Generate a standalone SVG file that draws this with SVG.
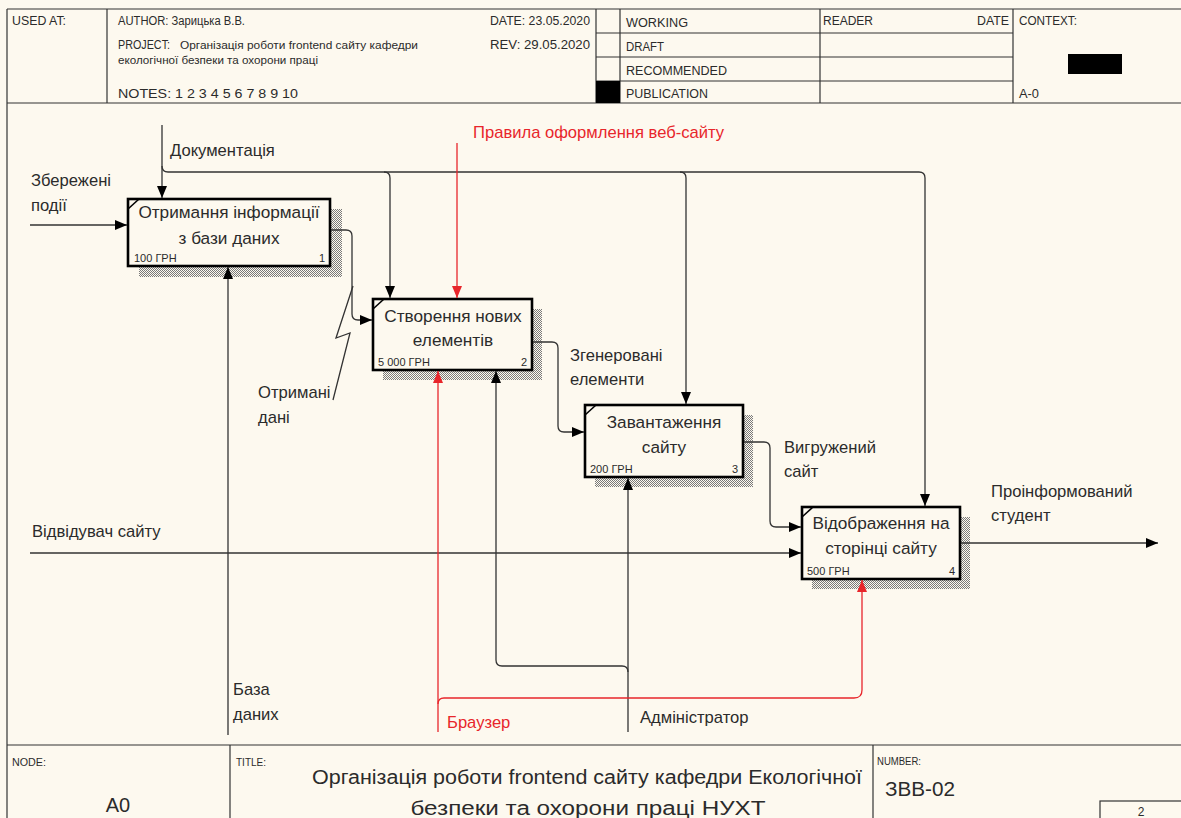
<svg xmlns="http://www.w3.org/2000/svg" width="1181" height="818" viewBox="0 0 1181 818">
  <style>
    text { font-family: "Liberation Sans", Arial, sans-serif; fill: #2b2b2b; }
    .hdr { font-size: 12px; }
    .sm { font-size: 10px; }
    .lbl { font-size: 16.6px; }
    .act { font-size: 17.2px; }
    .red { fill: #e8262b; }
    .ttl { font-size: 20px; }
    .frame { stroke: #333; stroke-width: 1.2; fill: none; }
    .box { fill: #fdf9ef; stroke: #000; stroke-width: 2.6; }
    .shadow { fill: url(#hatch); }
    .corner { stroke: #000; stroke-width: 1.6; }
    .cost { font-size: 11px; }
    .wire { fill: none; stroke: #333; stroke-width: 1.3; }
    .wire-red { fill: none; stroke: #e8262b; stroke-width: 1.3; }
  </style>
  <defs>
    <pattern id="hatch" width="2" height="2" patternUnits="userSpaceOnUse">
      <rect x="0" y="0" width="1" height="1" fill="#7a7a7a"/>
      <rect x="1" y="1" width="1" height="1" fill="#7a7a7a"/>
    </pattern>
    <marker id="arr" viewBox="0 0 12 10" refX="12" refY="5" markerWidth="12" markerHeight="10" markerUnits="userSpaceOnUse" orient="auto">
      <path d="M0,0 L12,5 L0,10 Z" fill="#000"/>
    </marker>
    <marker id="arr-red" viewBox="0 0 12 10" refX="12" refY="5" markerWidth="12" markerHeight="10" markerUnits="userSpaceOnUse" orient="auto">
      <path d="M0,0 L12,5 L0,10 Z" fill="#e8262b"/>
    </marker>
  </defs>

  <rect x="0" y="0" width="1181" height="818" fill="#fdf9ef"/>

  <!-- header form -->
  <g id="header">
    <line class="frame" x1="7" y1="9" x2="1181" y2="9"/>
    <line class="frame" x1="7" y1="103" x2="1181" y2="103"/>
    <line class="frame" x1="7" y1="9" x2="7" y2="818"/>
    <line class="frame" x1="107" y1="9" x2="107" y2="103"/>
    <line class="frame" x1="596" y1="9" x2="596" y2="103"/>
    <line class="frame" x1="620" y1="9" x2="620" y2="103"/>
    <line class="frame" x1="820" y1="9" x2="820" y2="103"/>
    <line class="frame" x1="1013" y1="9" x2="1013" y2="103"/>
    <line class="frame" x1="596" y1="33" x2="1013" y2="33"/>
    <line class="frame" x1="596" y1="57" x2="1013" y2="57"/>
    <line class="frame" x1="596" y1="81" x2="1013" y2="81"/>
    <rect x="596" y="81" width="24" height="22" fill="#000"/>
    <rect x="1068" y="54" width="54" height="20" fill="#000"/>

    <text class="hdr" x="12" y="25" textLength="54" lengthAdjust="spacingAndGlyphs">USED AT:</text>
    <text class="hdr" x="118" y="25" textLength="127" lengthAdjust="spacingAndGlyphs">AUTHOR:  Зарицька В.В.</text>
    <text class="hdr" x="118" y="49" textLength="52" lengthAdjust="spacingAndGlyphs">PROJECT:</text>
    <text class="sm" x="180" y="49" textLength="238" lengthAdjust="spacingAndGlyphs">Організація роботи frontend сайту кафедри</text>
    <text class="sm" x="118" y="64" textLength="200" lengthAdjust="spacingAndGlyphs">екологічної безпеки та охорони праці</text>
    <text class="hdr" x="118" y="98" textLength="180" lengthAdjust="spacingAndGlyphs">NOTES:  1  2  3  4  5  6  7  8  9  10</text>
    <text class="hdr" x="490" y="25" textLength="100" lengthAdjust="spacingAndGlyphs">DATE:  23.05.2020</text>
    <text class="hdr" x="490" y="49" textLength="100" lengthAdjust="spacingAndGlyphs">REV:   29.05.2020</text>
    <text class="hdr" x="626" y="27" textLength="62" lengthAdjust="spacingAndGlyphs">WORKING</text>
    <text class="hdr" x="626" y="51" textLength="38" lengthAdjust="spacingAndGlyphs">DRAFT</text>
    <text class="hdr" x="626" y="75" textLength="101" lengthAdjust="spacingAndGlyphs">RECOMMENDED</text>
    <text class="hdr" x="626" y="98" textLength="82" lengthAdjust="spacingAndGlyphs">PUBLICATION</text>
    <text class="hdr" x="823" y="25" textLength="50" lengthAdjust="spacingAndGlyphs">READER</text>
    <text class="hdr" x="977" y="25" textLength="32" lengthAdjust="spacingAndGlyphs">DATE</text>
    <text class="hdr" x="1019" y="25" textLength="58" lengthAdjust="spacingAndGlyphs">CONTEXT:</text>
    <text class="hdr" x="1019" y="98" textLength="20" lengthAdjust="spacingAndGlyphs">A-0</text>
  </g>

  <!-- footer form -->
  <g id="footer">
    <line class="frame" x1="7" y1="745" x2="1181" y2="745"/>
    <line class="frame" x1="230" y1="745" x2="230" y2="818"/>
    <line class="frame" x1="873" y1="745" x2="873" y2="818"/>
    <rect class="frame" x="1100" y="801" width="90" height="20"/>
    <text class="sm" x="12" y="766" textLength="34" lengthAdjust="spacingAndGlyphs">NODE:</text>
    <text class="sm" x="236" y="766" textLength="30" lengthAdjust="spacingAndGlyphs">TITLE:</text>
    <text class="sm" x="877" y="765" textLength="44" lengthAdjust="spacingAndGlyphs">NUMBER:</text>
    <text class="ttl" x="118" y="812" text-anchor="middle">A0</text>
    <text class="ttl" x="587" y="784" text-anchor="middle" textLength="550" lengthAdjust="spacingAndGlyphs">Організація роботи frontend  сайту кафедри Екологічної</text>
    <text class="ttl" x="588" y="815" text-anchor="middle" textLength="355" lengthAdjust="spacingAndGlyphs">безпеки  та охорони праці НУХТ</text>
    <text class="ttl" x="885" y="796" textLength="70" lengthAdjust="spacingAndGlyphs">ЗВВ-02</text>
    <text class="hdr" x="1141" y="816" text-anchor="middle">2</text>
  </g>

  <!-- activity 1 -->
  <g id="node1">
    <rect class="shadow" x="139" y="209" width="203" height="68"/>
    <rect class="box" x="128" y="199" width="202" height="67"/>
    <line class="corner" x1="128" y1="209" x2="139" y2="199"/>
    <text class="act" x="229" y="218" text-anchor="middle">Отримання інформації</text>
    <text class="act" x="229" y="244" text-anchor="middle">з бази даних</text>
    <text class="cost" x="134" y="262">100 ГРН</text>
    <text class="cost" x="325" y="262" text-anchor="end">1</text>
  </g>

  <!-- activity 2 -->
  <g id="node2">
    <rect class="shadow" x="383" y="309" width="159" height="71"/>
    <rect class="box" x="373" y="299" width="159" height="71"/>
    <line class="corner" x1="373" y1="309" x2="384" y2="299"/>
    <text class="act" x="453" y="322" text-anchor="middle">Створення нових</text>
    <text class="act" x="453" y="346" text-anchor="middle">елементів</text>
    <text class="cost" x="378" y="366">5 000 ГРН</text>
    <text class="cost" x="527" y="366" text-anchor="end">2</text>
  </g>

  <!-- activity 3 -->
  <g id="node3">
    <rect class="shadow" x="595" y="415" width="158" height="72"/>
    <rect class="box" x="585" y="405" width="158" height="72"/>
    <line class="corner" x1="585" y1="415" x2="596" y2="405"/>
    <text class="act" x="664" y="428" text-anchor="middle">Завантаження</text>
    <text class="act" x="664" y="453" text-anchor="middle">сайту</text>
    <text class="cost" x="590" y="473">200 ГРН</text>
    <text class="cost" x="738" y="473" text-anchor="end">3</text>
  </g>

  <!-- activity 4 -->
  <g id="node4">
    <rect class="shadow" x="812" y="517" width="158" height="72"/>
    <rect class="box" x="802" y="507" width="158" height="72"/>
    <line class="corner" x1="802" y1="517" x2="813" y2="507"/>
    <text class="act" x="881" y="529" text-anchor="middle">Відображення на</text>
    <text class="act" x="881" y="554" text-anchor="middle">сторінці сайту</text>
    <text class="cost" x="807" y="575">500 ГРН</text>
    <text class="cost" x="955" y="575" text-anchor="end">4</text>
  </g>

  <!-- connectors, drawn above the box shadows -->
  <g id="connectors">
    <!-- Документація and its branches -->
    <path class="wire" d="M162,125 L162,198" marker-end="url(#arr)"/>
    <path class="wire" d="M162,166 Q162,172 168,172 L919,172 Q925,172 925,178 L925,506" marker-end="url(#arr)"/>
    <path class="wire" d="M384,172 Q390,172 390,178 L390,298" marker-end="url(#arr)"/>
    <path class="wire" d="M680,172 Q686,172 686,178 L686,404" marker-end="url(#arr)"/>

    <!-- Правила оформлення веб-сайту -->
    <path class="wire-red" d="M457,143 L457,298" marker-end="url(#arr-red)"/>

    <!-- Збережені події -->
    <path class="wire" d="M30,225 L127,225" marker-end="url(#arr)"/>

    <!-- Отримані дані -->
    <path class="wire" d="M331,230 L346,230 Q352,230 352,236 L352,314 Q352,320 358,320 L372,320" marker-end="url(#arr)"/>
    <polyline class="wire" points="353,286 336,338 350,333 333,400" stroke-width="1"/>

    <!-- Згенеровані елементи -->
    <path class="wire" d="M533,342 L552,342 Q558,342 558,348 L558,426 Q558,432 564,432 L584,432" marker-end="url(#arr)"/>

    <!-- Вигружений сайт -->
    <path class="wire" d="M744,442 L764,442 Q770,442 770,448 L770,521 Q770,527 776,527 L801,527" marker-end="url(#arr)"/>

    <!-- Відвідувач сайту -->
    <path class="wire" d="M30,553 L801,553" marker-end="url(#arr)"/>

    <!-- Проінформований студент -->
    <path class="wire" d="M961,543 L1158,543" marker-end="url(#arr)"/>

    <!-- База даних -->
    <path class="wire" d="M228,735 L228,267" marker-end="url(#arr)"/>

    <!-- Адміністратор and branch -->
    <path class="wire" d="M628,732 L628,478" marker-end="url(#arr)"/>
    <path class="wire" d="M628,672 Q628,666 622,666 L502,666 Q496,666 496,660 L496,371" marker-end="url(#arr)"/>

    <!-- Браузер and branch -->
    <path class="wire-red" d="M438,732 L438,371" marker-end="url(#arr-red)"/>
    <path class="wire-red" d="M438,704 Q438,698 444,698 L854,698 Q862,698 862,690 L862,580" marker-end="url(#arr-red)"/>
  </g>

  <!-- connector labels -->
  <g id="labels">
    <text class="lbl" x="170" y="156">Документація</text>
    <text class="lbl red" x="473" y="138">Правила оформлення веб-сайту</text>
    <text class="lbl" x="31" y="186">Збережені</text>
    <text class="lbl" x="31" y="211">події</text>
    <text class="lbl" x="258" y="398">Отримані</text>
    <text class="lbl" x="258" y="423">дані</text>
    <text class="lbl" x="570" y="361">Згенеровані</text>
    <text class="lbl" x="570" y="385">елементи</text>
    <text class="lbl" x="784" y="453">Вигружений</text>
    <text class="lbl" x="784" y="477">сайт</text>
    <text class="lbl" x="32" y="537">Відвідувач сайту</text>
    <text class="lbl" x="991" y="497">Проінформований</text>
    <text class="lbl" x="991" y="521">студент</text>
    <text class="lbl" x="233" y="695">База</text>
    <text class="lbl" x="233" y="720">даних</text>
    <text class="lbl red" x="447" y="728">Браузер</text>
    <text class="lbl" x="640" y="723">Адміністратор</text>
  </g>
</svg>
